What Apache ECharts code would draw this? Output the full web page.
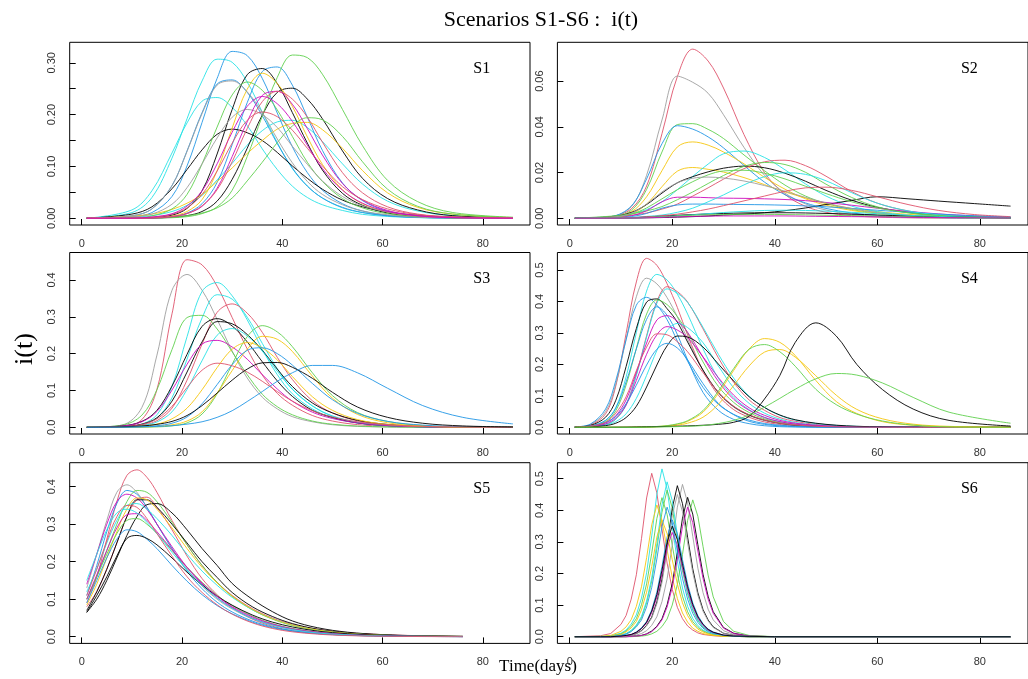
<!DOCTYPE html>
<html><head><meta charset="utf-8">
<script src="https://cdn.jsdelivr.net/npm/echarts@6/dist/echarts.min.js"></script>
<style>html,body{margin:0;padding:0;background:#fff}#c{width:1028px;height:679px}</style>
</head><body><div id="c"></div>
<script>
// ---------------- tick labels ----------------
const xTicks = [0, 20, 40, 60, 80];
const s1YTicks = [0, .05, .1, .15, .2, .25, .3];
const s1YLabels = [0, .1, .2, .3];
const s2YTicks = [0, .02, .04, .06];
const s3YTicks = [0, .1, .2, .3, .4];
const s4YTicks = [0, .1, .2, .3, .4, .5];
const s5YTicks = [0, .1, .2, .3, .4];
const s6YTicks = [0, .1, .2, .3, .4, .5];

// ---------------- S1 ----------------
const s1Days = [1,10,14,18,21,24,27,30,33,36,39,42,45,48,52,56,61,67,74,86];
const s1_c1 = [0,.011,.040,.116,.192,.265,.307,.301,.263,.205,.146,.096,.062,.039,.020,.011,.005,.002,.0005,0];
const s1_c2 = [0,.016,.053,.126,.184,.226,.233,.214,.179,.134,.094,.062,.040,.026,.015,.0075,.0035,.0012,.0003,0];
const s1_c3 = [0,.002,.005,.013,.025,.044,.074,.106,.141,.169,.186,.189,.175,.148,.105,.066,.033,.014,.005,.0008];
const s1_c4 = [0,.003,.011,.042,.101,.185,.270,.322,.314,.270,.203,.138,.088,.054,.028,.014,.0055,.002,.0005,0];
const s1_c5 = [0,.005,.018,.063,.130,.204,.259,.267,.243,.198,.144,.097,.062,.039,.021,.011,.0046,.0015,.0004,0];
const s1_c6 = [0,0,.0006,.0035,.010,.028,.069,.142,.223,.283,.292,.257,.195,.131,.068,.034,.0135,.004,.001,0];
const s1_c7 = [0,0,.001,.006,.019,.053,.124,.210,.277,.289,.260,.204,.145,.093,.048,.025,.010,.0035,.001,0];
const s1_c8 = [0,0,.0004,.0018,.005,.013,.033,.075,.135,.199,.243,.251,.230,.192,.130,.077,.038,.016,.005,.0008];
const s1_c9 = [0,.008,.022,.057,.094,.132,.162,.172,.165,.150,.127,.101,.077,.056,.035,.022,.012,.0057,.0022,.0005];
const s1_c10 = [0,0,.0008,.004,.013,.036,.092,.174,.249,.280,.260,.216,.157,.104,.055,.028,.012,.004,.001,0];
const s1_c11 = [0,.004,.008,.017,.029,.046,.071,.097,.125,.150,.172,.183,.185,.171,.135,.092,.049,.021,.008,.0013];
const s1_c12 = [0,0,0,.001,.003,.009,.022,.054,.119,.197,.272,.315,.310,.278,.210,.140,.073,.032,.011,.002];
const s1_c13 = [0,0,.0045,.018,.046,.105,.176,.238,.263,.247,.209,.158,.108,.071,.038,.020,.0087,.003,.001,0];
const s1_c14 = [0,.0002,.0007,.002,.005,.010,.020,.039,.072,.108,.146,.178,.194,.190,.158,.109,.056,.023,.008,.001];
const s1_c15 = [0,.0046,.018,.063,.129,.202,.257,.265,.244,.204,.153,.107,.071,.046,.026,.014,.0067,.002,.0005,0];
const s1_c16 = [0,.0025,.008,.027,.059,.105,.155,.195,.210,.200,.175,.139,.104,.072,.042,.024,.012,.005,.0015,0];
const s1_c17 = [0,0,.0002,.003,.009,.023,.058,.119,.186,.237,.245,.220,.173,.122,.067,.035,.015,.005,.0013,0];
const s1_c18 = [0,0,.0008,.0034,.009,.024,.055,.109,.173,.225,.245,.230,.195,.147,.088,.049,.022,.008,.0027,.0003];
const s1_c19 = [0,0,.002,.0076,.020,.046,.091,.145,.189,.205,.196,.170,.135,.101,.061,.036,.018,.007,.0027,.0004];
const s1_c20 = [0,0,.0024,.0087,.0235,.053,.105,.166,.216,.235,.221,.187,.141,.096,.054,.029,.013,.0047,.0013,0];

// ---------------- S2 ----------------
const s2Days = [1,8,12,15,18,21,24,27,30,34,38,42,46,50,55,60,66,72,79,86];
const s2_c1 = [0,.0007,.0041,.0141,.037,.062,.074,.0688,.057,.0366,.020,.0104,.0052,.0026,.0011,.0005,.0002,.0001,0,0];
const s2_c2 = [0,.0007,.005,.0188,.043,.0622,.0595,.0547,.0453,.031,.0188,.011,.0063,.0036,.0017,.0008,.0003,.0001,0,0];
const s2_c3 = [0,.0005,.0034,.0126,.029,.041,.0414,.0389,.0349,.0277,.0208,.0145,.0097,.0065,.0038,.0023,.0011,.0006,.0002,.0001];
const s2_c4 = [0,.0007,.0053,.0172,.0326,.0405,.039,.0356,.0308,.0231,.0158,.0103,.0067,.0043,.0023,.0013,.0006,.0003,.0001,0];
const s2_c5 = [0,.0005,.0028,.0094,.0208,.0312,.0334,.032,.029,.0238,.0179,.0127,.0085,.0057,.0034,.002,.001,.0005,.0002,.0001];
const s2_c6 = [0,.0003,.0019,.0062,.0138,.0206,.0222,.0214,.0202,.0178,.0147,.0115,.0089,.0064,.0043,.0029,.0017,.001,.0005,.0003];
const s2_c7 = [0,.0007,.0019,.0038,.0072,.0125,.0183,.0237,.0282,.0294,.0266,.0212,.015,.0097,.0053,.0029,.0013,.0006,.0002,.0001];
const s2_c8 = [0,.0006,.0025,.006,.011,.0155,.0182,.0203,.0219,.0228,.0221,.0197,.0162,.0122,.0079,.0048,.0026,.0014,.0006,.0003];
const s2_c9 = [0,0,.0001,.0002,.0003,.0005,.0007,.001,.0014,.0018,.0024,.0033,.0045,.006,.0078,.0094,.0085,.0075,.0064,.0053];
const s2_c10 = [0,.0006,.0013,.0023,.004,.0062,.0097,.0133,.0171,.0217,.0247,.0254,.023,.0184,.0117,.0066,.0032,.0015,.0006,.0002];
const s2_c11 = [0,.0009,.0019,.0032,.0051,.0081,.0115,.0152,.0187,.0227,.0244,.0235,.0201,.0149,.0091,.005,.0024,.0011,.0004,.0002];
const s2_c12 = [0,.0002,.0011,.0033,.0072,.0092,.0092,.009,.0088,.0087,.0085,.0082,.0077,.0069,.0057,.0044,.003,.0019,.001,.0005];
const s2_c13 = [0,.0001,.0007,.0021,.0044,.0058,.0062,.0062,.0061,.006,.0059,.0057,.0054,.005,.0043,.0035,.0026,.0018,.0011,.0006];
const s2_c14 = [0,.0002,.0004,.0008,.0014,.0026,.0044,.0072,.0102,.0146,.0182,.0199,.0192,.0164,.0112,.0066,.0032,.0015,.0006,.0002];
const s2_c15 = [0,.0004,.0018,.0045,.0085,.0125,.016,.019,.0207,.021,.0197,.0172,.014,.0108,.0072,.0045,.0024,.0012,.0005,.0002];
const s2_c16 = [0,.0004,.0022,.0062,.0115,.0155,.0175,.018,.0176,.0163,.0143,.0118,.0091,.0067,.0042,.0025,.0012,.0006,.0002,.0001];
const s2_c17 = [0,0,.0002,.0005,.0009,.0013,.0016,.0019,.0021,.0023,.0024,.0024,.0023,.0021,.0018,.0014,.001,.0007,.0004,.0002];
const s2_c18 = [0,.0001,.0003,.0006,.0011,.0018,.0028,.004,.0055,.0076,.0097,.0118,.0133,.0136,.0122,.0094,.006,.0034,.0016,.0007];
const s2_c19 = [0,0,.0001,.0003,.0006,.001,.0015,.002,.0025,.003,.0034,.0035,.0034,.0031,.0026,.002,.0013,.0008,.0004,.0002];
const s2_c20 = [0,0,.0001,.0003,.0006,.001,.0013,.0015,.0016,.0017,.0017,.0016,.0015,.0013,.0011,.0009,.0006,.0004,.0002,.0001];
const s2_c21 = [0,0,.0001,.0002,.0004,.0006,.0008,.0009,.001,.001,.001,.001,.0009,.0008,.0007,.0006,.0004,.0003,.0002,.0001];

// ---------------- S3 ----------------
const s3Days = [1,8,12,15,18,21,24,27,30,33,36,39,42,46,50,55,61,68,76,86];
const s3_c1 = [0,.0016,.021,.103,.308,.455,.441,.383,.298,.213,.142,.092,.060,.032,.017,.0073,.0028,.0008,.0002,0];
const s3_c2 = [0,.006,.054,.196,.372,.415,.372,.293,.207,.134,.082,.050,.029,.015,.007,.0025,.0008,.0002,0,0];
const s3_c3 = [0,.0012,.0087,.034,.111,.246,.369,.393,.357,.292,.212,.143,.091,.050,.026,.0115,.004,.001,.0003,0];
const s3_c4 = [0,.0013,.0076,.025,.080,.185,.297,.360,.348,.299,.228,.159,.103,.058,.030,.0127,.0047,.0013,.0003,0];
const s3_c5 = [0,.001,.0057,.018,.052,.128,.226,.312,.335,.310,.258,.190,.130,.072,.039,.0175,.0064,.0017,.0004,0];
const s3_c6 = [0,.0056,.033,.102,.211,.298,.304,.267,.205,.143,.090,.056,.034,.017,.0084,.0034,.0011,.0003,0,0];
const s3_c7 = [0,.0036,.016,.046,.112,.198,.274,.295,.275,.232,.178,.126,.084,.046,.027,.012,.0047,.0015,.0004,0];
const s3_c8 = [0,.0019,.0086,.026,.071,.150,.232,.287,.281,.252,.209,.158,.111,.066,.039,.019,.0078,.0029,.0008,.0001];
const s3_c9 = [0,.0008,.0046,.0144,.042,.103,.181,.250,.268,.248,.207,.152,.104,.058,.031,.014,.0051,.0014,.0003,0];
const s3_c10 = [0,.0033,.015,.043,.101,.171,.226,.236,.218,.185,.143,.104,.071,.041,.024,.012,.0047,.0015,.0004,0];
const s3_c11 = [0,0,.0003,.0011,.0039,.012,.036,.091,.171,.246,.276,.259,.219,.148,.086,.040,.016,.0047,.0011,.0002];
const s3_c12 = [0,0,.0008,.0025,.0067,.017,.042,.093,.154,.212,.247,.239,.206,.139,.079,.035,.0124,.0037,.0008,.0001];
const s3_c13 = [0,.0007,.0032,.0085,.023,.052,.102,.162,.212,.230,.216,.183,.138,.083,.046,.021,.0076,.0028,.0006,0];
const s3_c14 = [0,.0003,.0015,.0043,.011,.028,.064,.116,.170,.209,.216,.200,.169,.119,.075,.038,.016,.0059,.0015,.0002];
const s3_c15 = [0,.0016,.0078,.023,.057,.108,.155,.174,.167,.150,.125,.097,.071,.045,.028,.015,.007,.0026,.0007,.0001];
const s3_c16 = [0,.0013,.0036,.008,.016,.032,.059,.093,.128,.158,.175,.176,.163,.133,.095,.055,.027,.011,.0037,.0009];
const s3_c17 = [.0001,.0005,.0013,.0024,.0044,.0086,.015,.027,.045,.070,.097,.125,.148,.168,.168,.148,.106,.059,.027,.0092];

// ---------------- S4 ----------------
const s4Days = [1,4,7,9,11,13,15,17,19,21,23,26,29,32,35,38,41,44,48,52,56,61,67,74,86];
const s4_c1 = [.0007,.007,.043,.132,.298,.462,.537,.515,.456,.381,.293,.180,.102,.056,.032,.017,.009,.0048,.0019,.0008,.0003,.0001,0,0,0];
const s4_c2 = [.0012,.0085,.050,.137,.280,.415,.474,.456,.412,.351,.280,.180,.109,.064,.038,.021,.012,.0066,.0033,.0015,.0007,.0002,0,0,0];
const s4_c3 = [.0005,.004,.022,.063,.160,.301,.433,.486,.468,.423,.360,.250,.156,.095,.056,.032,.018,.010,.0049,.002,.0009,.0003,.0001,0,0];
const s4_c4 = [.0003,.0014,.0085,.026,.072,.168,.291,.400,.447,.431,.398,.313,.221,.143,.087,.054,.031,.019,.009,.0045,.0022,.0008,.0002,0,0];
const s4_c5 = [.0003,.0014,.0084,.026,.071,.165,.287,.394,.440,.426,.397,.318,.232,.156,.099,.063,.038,.023,.012,.006,.003,.0012,.0004,.0001,0];
const s4_c6 = [.0015,.010,.058,.149,.278,.388,.413,.388,.342,.274,.210,.127,.073,.041,.023,.012,.0066,.0035,.0015,.0006,.0002,0,0,0,0];
const s4_c7 = [.0008,.0057,.032,.086,.193,.314,.398,.408,.377,.334,.271,.182,.111,.066,.039,.023,.013,.007,.0033,.0015,.0006,.0002,0,0,0];
const s4_c8 = [.0004,.0033,.018,.053,.134,.251,.360,.405,.390,.352,.300,.208,.130,.079,.047,.027,.015,.0083,.0041,.0017,.0008,.0003,.0001,0,0];
const s4_c9 = [.0008,.0042,.022,.061,.144,.249,.343,.383,.356,.295,.214,.111,.054,.025,.0115,.005,.002,.0009,.0003,0,0,0,0,0,0];
const s4_c10 = [.0003,.0018,.0073,.018,.043,.092,.165,.244,.307,.330,.317,.269,.195,.125,.076,.045,.026,.015,.0069,.0033,.0015,.0005,.0001,0,0];
const s4_c11 = [.0005,.0032,.014,.037,.087,.175,.268,.341,.355,.337,.302,.223,.146,.089,.054,.031,.018,.010,.0046,.002,.0009,.0003,.0001,0,0];
const s4_c12 = [.0003,.0024,.011,.030,.071,.149,.232,.294,.320,.309,.285,.224,.158,.102,.062,.038,.022,.013,.0064,.0032,.0015,.0005,.0001,0,0];
const s4_c13 = [.0001,.0012,.0052,.013,.031,.067,.128,.198,.259,.290,.287,.255,.201,.147,.097,.063,.039,.024,.013,.0067,.0032,.0013,.0004,.0001,0];
const s4_c14 = [.0008,.0037,.015,.035,.075,.134,.198,.248,.267,.252,.214,.139,.076,.040,.019,.0093,.0045,.002,.0008,.0003,0,0,0,0,0];
const s4_c15 = [.0006,.0038,.016,.045,.097,.180,.255,.297,.294,.272,.240,.174,.112,.067,.040,.023,.013,.0075,.0034,.0015,.0006,.0002,0,0,0];
const s4_c16 = [0,0,0,.0001,.0002,.0005,.0011,.0023,.0048,.0096,.019,.048,.108,.181,.249,.282,.270,.228,.149,.082,.044,.018,.0065,.0018,.0001];
const s4_c17 = [0,0,0,0,0,.0004,.0009,.0017,.0035,.0067,.013,.032,.073,.133,.195,.239,.247,.223,.164,.102,.057,.027,.0099,.003,.0003];
const s4_c18 = [0,0,0,0,0,.0003,.0016,.0026,.0053,.011,.021,.053,.115,.187,.248,.263,.240,.194,.121,.072,.042,.020,.007,.0013,.0001];
const s4_c19 = [0,0,0,.0003,.0006,.001,.0014,.002,.0027,.0035,.0045,.0065,.0095,.016,.035,.09,.165,.27,.332,.29,.20,.12,.058,.022,.004];
const s4_c20 = [0,0,0,0,0,0,.0005,.001,.0015,.0022,.0032,.0055,.012,.022,.039,.064,.092,.121,.154,.171,.166,.141,.095,.048,.013];

// ---------------- S5 ----------------
const s5Days = [1,3,5,7,9,11,13,15,18,21,24,27,30,34,38,42,47,53,60,68,76];
const s5_c1 = [.09,.16,.26,.36,.43,.445,.425,.385,.31,.245,.19,.145,.11,.075,.05,.033,.02,.011,.0055,.0025,.001];
const s5_c2 = [.08,.12,.18,.25,.32,.365,.372,.345,.285,.215,.155,.112,.078,.047,.028,.016,.0085,.004,.0017,.0006,.0002];
const s5_c3 = [.13,.22,.31,.385,.405,.385,.345,.30,.235,.18,.135,.1,.074,.048,.031,.02,.011,.0055,.0025,.001,.0004];
const s5_c4 = [.11,.19,.28,.355,.39,.38,.345,.30,.235,.175,.128,.092,.066,.042,.026,.016,.0088,.0042,.0018,.0007,.0002];
const s5_c5 = [.1,.16,.23,.3,.36,.39,.385,.36,.305,.245,.19,.145,.108,.072,.047,.03,.017,.0085,.004,.0015,.0006];
const s5_c6 = [.14,.22,.3,.36,.38,.37,.34,.3,.24,.185,.14,.104,.077,.05,.032,.02,.011,.0055,.0025,.001,.0004];
const s5_c7 = [.07,.12,.18,.25,.32,.365,.365,.345,.3,.25,.2,.158,.118,.08,.054,.035,.02,.01,.0045,.0018,.0007];
const s5_c8 = [.065,.1,.15,.21,.27,.32,.352,.355,.33,.285,.235,.19,.142,.1,.067,.042,.024,.012,.0055,.0022,.0008];
const s5_c9 = [.12,.18,.25,.31,.35,.355,.34,.315,.27,.22,.175,.137,.105,.072,.048,.031,.018,.009,.004,.0016,.0006];
const s5_c10 = [.085,.14,.21,.28,.34,.37,.365,.34,.29,.235,.185,.143,.108,.073,.048,.031,.018,.009,.004,.0016,.0006];
const s5_c11 = [.1,.16,.22,.275,.31,.315,.3,.275,.23,.185,.145,.11,.083,.055,.035,.022,.012,.006,.0026,.001,.0004];
const s5_c12 = [.09,.15,.21,.26,.285,.28,.26,.235,.19,.148,.112,.083,.061,.039,.024,.015,.008,.0038,.0016,.0006,.0002];
const s5_c13 = [.065,.11,.16,.215,.262,.27,.262,.245,.21,.172,.138,.108,.084,.058,.039,.026,.015,.0078,.0036,.0014,.0005];
const s5_c14 = [.1,.165,.23,.29,.325,.328,.31,.28,.232,.185,.143,.108,.08,.053,.034,.021,.012,.0058,.0025,.001,.0004];
const s5_c15 = [.15,.22,.285,.33,.34,.33,.305,.275,.225,.178,.137,.103,.076,.049,.031,.019,.01,.005,.0021,.0008,.0003];
const s5_c16 = [.11,.18,.255,.32,.35,.345,.315,.275,.215,.16,.118,.085,.06,.037,.022,.013,.0068,.003,.0012,.0004,.0001];

// ---------------- S6 ----------------
const s6Days = [1,6,8,10,11,12,13,14,15,16,17,18,19,20,21,22,23,24,25,26,27,28,30,32,35,40,50,86];
const s6_c1 = [0,.003,.01,.039,.067,.119,.196,.31,.439,.517,.455,.341,.233,.15,.093,.057,.034,.021,.012,.007,.005,.003,.001,.001,0,0,0,0];
const s6_c2 = [0,.001,.003,.011,.021,.04,.069,.122,.202,.319,.451,.531,.467,.35,.239,.154,.096,.058,.035,.021,.013,.007,.003,.001,0,0,0,0];
const s6_c3 = [0,0,.001,.005,.009,.019,.035,.06,.107,.176,.278,.394,.464,.408,.306,.209,.135,.084,.051,.03,.019,.011,.004,.002,0,0,0,0];
const s6_c4 = [0,0,.002,.009,.018,.033,.057,.101,.167,.264,.374,.44,.387,.29,.198,.128,.079,.048,.029,.018,.011,.006,.002,.001,0,0,0,0];
const s6_c5 = [0,0,0,0,.001,.002,.005,.01,.019,.036,.063,.111,.183,.289,.41,.482,.424,.318,.217,.14,.087,.053,.019,.007,.002,0,0,0];
const s6_c6 = [0,0,0,.001,.002,.005,.01,.019,.036,.062,.11,.182,.287,.406,.478,.421,.315,.215,.139,.086,.053,.031,.011,.004,.001,0,0,0];
const s6_c7 = [0,0,0,0,0,.001,.002,.004,.009,.018,.033,.057,.101,.168,.265,.375,.441,.388,.291,.198,.128,.079,.029,.011,.002,0,0,0];
const s6_c8 = [0,0,0,0,0,0,.001,.002,.004,.009,.017,.032,.056,.1,.165,.26,.368,.433,.381,.286,.195,.126,.048,.017,.004,0,0,0];
const s6_c9 = [0,.001,.004,.017,.031,.054,.096,.158,.25,.354,.417,.367,.275,.188,.121,.075,.046,.027,.017,.01,.006,.004,.001,.001,0,0,0,0];
const s6_c10 = [0,0,0,0,0,.001,.002,.004,.008,.016,.031,.053,.094,.156,.246,.349,.41,.361,.271,.185,.119,.074,.027,.01,.002,0,0,0];
const s6_c11 = [0,0,.001,.005,.01,.02,.037,.064,.113,.186,.294,.417,.49,.431,.323,.221,.142,.088,.054,.032,.02,.012,.004,.002,0,0,0,0];
const s6_c12 = [0,0,0,.002,.004,.007,.015,.028,.048,.085,.141,.222,.315,.37,.326,.244,.167,.107,.067,.041,.024,.015,.005,.002,.001,0,0,0];
const s6_c13 = [0,0,0,.001,.002,.005,.009,.018,.034,.059,.104,.171,.27,.383,.45,.396,.297,.203,.131,.081,.05,.029,.011,.004,.001,0,0,0];
const s6_c14 = [0,0,0,.002,.003,.007,.013,.025,.043,.076,.125,.198,.281,.33,.29,.218,.149,.096,.059,.036,.021,.013,.005,.002,0,0,0,0];
const s6_c15 = [0,0,.002,.007,.015,.028,.048,.085,.141,.222,.315,.37,.326,.244,.167,.107,.067,.041,.024,.015,.009,.005,.002,.001,0,0,0,0];
const s6_c16 = [0,0,.001,.004,.008,.016,.031,.053,.094,.156,.246,.349,.41,.361,.271,.185,.119,.074,.045,.027,.016,.01,.004,.001,0,0,0,0];
const s6_c17 = [0,0,0,.002,.004,.007,.014,.026,.046,.081,.133,.21,.298,.35,.308,.231,.158,.102,.063,.039,.023,.014,.005,.002,.001,0,0,0];

// ---------------- styling / assembly ----------------
const PAL = {k:'#000000', r:'#DF536B', g:'#61D04F', b:'#2297E6', c:'#28E2E5', m:'#CD0BBC', y:'#F5C710', a:'#9E9E9E'};

const panels = [
  {days:s1Days, lab:'S1', curves:[s1_c1,s1_c2,s1_c3,s1_c4,s1_c5,s1_c6,s1_c7,s1_c8,s1_c9,s1_c10,s1_c11,s1_c12,s1_c13,s1_c14,s1_c15,s1_c16,s1_c17,s1_c18,s1_c19,s1_c20],
   cols:'cccbbbkkkyygggaamrrm', yt:s1YTicks, yl:s1YLabels, dec:2, yr:[-0.01306,0.3396], g:[69.7,42.3,460.3,182.7], smooth:true},
  {days:s2Days, lab:'S2', curves:[s2_c1,s2_c2,s2_c3,s2_c4,s2_c5,s2_c6,s2_c7,s2_c8,s2_c9,s2_c10,s2_c11,s2_c12,s2_c13,s2_c14,s2_c15,s2_c16,s2_c17,s2_c18,s2_c19,s2_c20,s2_c21],
   cols:'ragbyyckkrgmbcgakrcgm', yt:s2YTicks, yl:s2YTicks, dec:2, yr:[-0.00296,0.0770], g:[557.4,42.3,480,182.7], smooth:true},
  {days:s3Days, lab:'S3', curves:[s3_c1,s3_c2,s3_c3,s3_c4,s3_c5,s3_c6,s3_c7,s3_c8,s3_c9,s3_c10,s3_c11,s3_c12,s3_c13,s3_c14,s3_c15,s3_c16,s3_c17],
   cols:'raccrgkkcmgyybrkb', yt:s3YTicks, yl:s3YTicks, dec:1, yr:[-0.0182,0.4746], g:[69.7,252.5,460.3,181.5], smooth:true},
  {days:s4Days, lab:'S4', curves:[s4_c1,s4_c2,s4_c3,s4_c4,s4_c5,s4_c6,s4_c7,s4_c8,s4_c9,s4_c10,s4_c11,s4_c12,s4_c13,s4_c14,s4_c15,s4_c16,s4_c17,s4_c18,s4_c19,s4_c20],
   cols:'racrcbkgbcmmkbryygkg', yt:s4YTicks, yl:s4YTicks, dec:1, yr:[-0.0213,0.5556], g:[557.4,252.5,480,181.5], smooth:true},
  {days:s5Days, lab:'S5', curves:[s5_c1,s5_c2,s5_c3,s5_c4,s5_c5,s5_c6,s5_c7,s5_c8,s5_c9,s5_c10,s5_c11,s5_c12,s5_c13,s5_c14,s5_c15,s5_c16],
   cols:'rrabgmkkcygbkmcr', yt:s5YTicks, yl:s5YTicks, dec:1, yr:[-0.0179,0.4640], g:[69.7,462.7,460.3,180.7], smooth:true},
  {days:s6Days, lab:'S6', curves:[s6_c1,s6_c2,s6_c3,s6_c4,s6_c5,s6_c6,s6_c7,s6_c8,s6_c9,s6_c10,s6_c11,s6_c12,s6_c13,s6_c14,s6_c15,s6_c16,s6_c17],
   cols:'rcggakkgymcbamybk', yt:s6YTicks, yl:s6YTicks, dec:1, yr:[-0.0212,0.5506], g:[557.4,462.7,480,180.7], smooth:false}
];

const AXFONT = '"Liberation Sans", Arial, sans-serif';
const SERIF = '"Liberation Serif", "Times New Roman", serif';
const grid = [], xAxis = [], yAxis = [], series = [], graphic = [];

panels.forEach((p, i) => {
  grid.push({left:p.g[0], top:p.g[1], width:p.g[2], height:p.g[3], show:true,
    borderColor:'#000', borderWidth:1, backgroundColor:'transparent', containLabel:false});
  xAxis.push({gridIndex:i, type:'value', min:-2.4, max:89.4, position:'bottom',
    axisLine:{show:false, onZero:false}, splitLine:{show:false},
    axisTick:{show:true, inside:true, length:6, customValues:xTicks, lineStyle:{color:'#000', width:1}},
    axisLabel:{show:true, customValues:xTicks, margin:13, fontSize:11, color:'#333', fontFamily:AXFONT}});
  yAxis.push({gridIndex:i, type:'value', min:p.yr[0], max:p.yr[1], position:'left',
    axisLine:{show:false, onZero:false}, splitLine:{show:false},
    axisTick:{show:true, inside:true, length:6, customValues:p.yt, lineStyle:{color:'#000', width:1}},
    axisLabel:{show:true, customValues:p.yl, rotate:90, margin:12, fontSize:11, color:'#333', fontFamily:AXFONT,
      formatter:(v)=>Number(v).toFixed(p.dec)}});
  p.curves.forEach((vals, k) => {
    const n = Math.min(vals.length, p.days.length);
    const data = [];
    for (let j = 0; j < n; j++) data.push([p.days[j], vals[j]]);
    series.push({type:'line', xAxisIndex:i, yAxisIndex:i, data, showSymbol:false, symbol:'none',
      smooth:p.smooth ? 0.35 : false, silent:true, clip:true,
      lineStyle:{width:1, color:PAL[p.cols[k]] || '#000', opacity:0.9}});
  });
  graphic.push({type:'text', x:p.g[0] + 412, y:p.g[1] + 26, silent:true,
    style:{text:p.lab, font:'16px ' + SERIF, fill:'#000', textAlign:'center', textVerticalAlign:'middle', align:'center', verticalAlign:'middle'}});
});

graphic.push({type:'text', x:541, y:20, silent:true,
  style:{text:'Scenarios S1-S6 :  i(t)', font:'22px ' + SERIF, fill:'#000', textAlign:'center', textVerticalAlign:'middle', align:'center', verticalAlign:'middle'}});
graphic.push({type:'text', x:25, y:349, rotation:Math.PI/2, silent:true,
  style:{text:'i(t)', font:'26px ' + SERIF, fill:'#000', textAlign:'center', textVerticalAlign:'middle', align:'center', verticalAlign:'middle'}});
graphic.push({type:'text', x:538, y:667, silent:true,
  style:{text:'Time(days)', font:'17px ' + SERIF, fill:'#000', textAlign:'center', textVerticalAlign:'middle', align:'center', verticalAlign:'middle'}});

const chart = echarts.init(document.getElementById('c'), null, {renderer:'canvas', width:1028, height:679});
chart.setOption({backgroundColor:'#fff', animation:false, grid, xAxis, yAxis, series, graphic});
</script>
</body></html>
